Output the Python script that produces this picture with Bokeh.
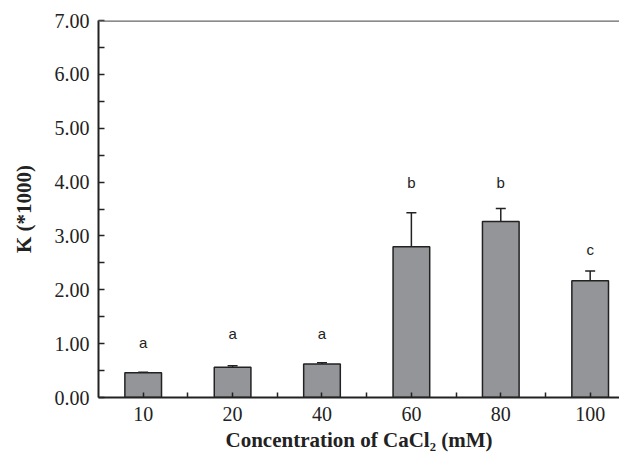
from bokeh.plotting import figure
from bokeh.models import FixedTicker, PrintfTickFormatter, Span, Whisker, TeeHead, ColumnDataSource, Range1d
from bokeh.core.properties import value
from bokeh.embed import file_html
from bokeh.resources import INLINE

categories = ["10", "20", "40", "60", "80", "100"]
k_values = [0.46, 0.56, 0.62, 2.80, 3.27, 2.17]
k_errors = [0.01, 0.03, 0.025, 0.63, 0.24, 0.18]
letters = ["a", "a", "a", "b", "b", "c"]
letter_y = [1.02, 1.19, 1.18, 3.99, 3.99, 2.75]
y_ticks = [0, 1, 2, 3, 4, 5, 6, 7]

xpos = list(range(len(categories)))
src = ColumnDataSource(dict(
    x=xpos, top=k_values,
    upper=[v + e for v, e in zip(k_values, k_errors)],
    lower=k_values, ly=letter_y, lt=letters))

p = figure(width=619, height=457, output_backend="svg", toolbar_location=None,
           x_range=Range1d(-0.5, 5.328), y_range=Range1d(0, 7),
           min_border_left=98, min_border_top=20, min_border_bottom=60, min_border_right=0)
p.outline_line_color = None
p.xgrid.visible = False
p.ygrid.visible = False
p.background_fill_color = "white"

err = Whisker(base="x", upper="upper", lower="lower", source=src, dimension="height",
              line_color="#222222", line_width=1.5,
              upper_head=TeeHead(size=10, line_color="#222222", line_width=1.5),
              lower_head=None)
p.add_layout(err)

p.vbar(x="x", top="top", bottom=0, width=0.41, source=src,
       fill_color="#939598", line_color="#222222", line_width=1.5)

p.text(x="x", y="ly", text="lt", source=src, text_align="center", text_baseline="middle",
       text_font=value("Liberation Sans"), text_font_size="15px", text_color="#222222")

p.add_layout(Span(location=7, dimension="width", line_color="#666666", line_width=2.5))

xa = p.xaxis[0]
xa.ticker = FixedTicker(ticks=xpos, minor_ticks=[i + 0.5 for i in xpos[:-1]])
xa.major_label_overrides = {i: c for i, c in enumerate(categories)}
xa.major_tick_in = 5
xa.major_tick_out = 0
xa.minor_tick_in = 5
xa.minor_tick_out = 0
xa.axis_line_width = 2
xa.axis_line_color = "#222222"
xa.major_tick_line_color = "#222222"
xa.minor_tick_line_color = "#222222"
xa.major_tick_line_width = 1.5
xa.minor_tick_line_width = 1.5
xa.major_label_text_font = "Liberation Serif"
xa.major_label_text_font_size = "20px"
xa.major_label_text_color = "#222222"
xa.major_label_standoff = 9
xa.axis_label = "Concentration of CaCl₂ (mM)"
xa.axis_label_text_font = "Liberation Serif"
xa.axis_label_text_font_style = "bold"
xa.axis_label_text_font_size = "21px"
xa.axis_label_text_color = "#222222"
xa.axis_label_standoff = 4

ya = p.yaxis[0]
ya.ticker = FixedTicker(ticks=y_ticks, minor_ticks=[t + 0.5 for t in y_ticks[:-1]])
ya.formatter = PrintfTickFormatter(format="%.2f")
ya.major_tick_in = 6
ya.major_tick_out = 0
ya.minor_tick_in = 6
ya.minor_tick_out = 0
ya.axis_line_width = 2
ya.axis_line_color = "#222222"
ya.major_tick_line_color = "#222222"
ya.minor_tick_line_color = "#222222"
ya.major_tick_line_width = 1.5
ya.minor_tick_line_width = 1.5
ya.major_label_text_font = "Liberation Serif"
ya.major_label_text_font_size = "20px"
ya.major_label_text_color = "#222222"
ya.major_label_standoff = 9
ya.axis_label = "K (*1000)"
ya.axis_label_text_font = "Liberation Serif"
ya.axis_label_text_font_style = "bold"
ya.axis_label_text_font_size = "21px"
ya.axis_label_text_color = "#222222"
ya.axis_label_standoff = 16

open("out.html", "w").write(file_html(p, INLINE))
